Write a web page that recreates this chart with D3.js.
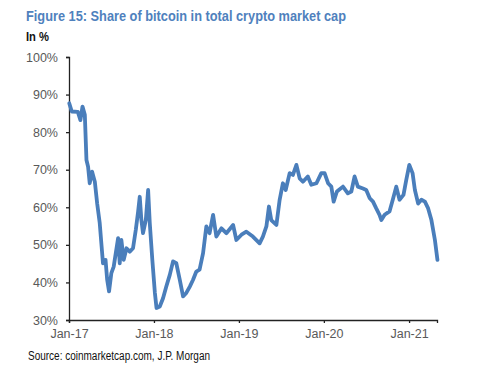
<!DOCTYPE html>
<html>
<head>
<meta charset="utf-8">
<script src="https://cdn.jsdelivr.net/npm/d3@7"></script>
<style>
  body { margin: 0; background: #fff; }
  svg { font-family: "Liberation Sans", Arial, sans-serif; }
</style>
</head>
<body>
<div id="chart"></div>
<script>
// dates and bitcoin share (%)
const dates = [
  "2017-01-02","2017-01-13","2017-02-08","2017-02-19","2017-02-28","2017-03-10","2017-03-17","2017-03-24",
  "2017-03-31","2017-04-10","2017-04-22","2017-05-02","2017-05-13","2017-05-20","2017-05-27","2017-06-07",
  "2017-06-14","2017-06-22","2017-07-02","2017-07-12","2017-07-21","2017-07-31","2017-08-07","2017-08-14",
  "2017-08-24","2017-09-05","2017-09-19","2017-10-03","2017-10-15","2017-10-25","2017-11-01","2017-11-08",
  "2017-11-15","2017-11-27","2017-12-07","2017-12-14","2017-12-25","2018-01-05","2018-01-12","2018-01-26",
  "2018-02-09","2018-02-23","2018-03-10","2018-03-24","2018-04-07","2018-04-22","2018-05-06","2018-05-20",
  "2018-06-04","2018-06-18","2018-07-02","2018-07-16","2018-07-31","2018-08-14","2018-08-28","2018-09-12",
  "2018-09-26","2018-10-18","2018-11-08","2018-12-07","2018-12-21","2019-01-12","2019-02-02","2019-03-02",
  "2019-03-31","2019-04-14","2019-04-29","2019-05-10","2019-05-20","2019-06-11","2019-06-25","2019-07-09",
  "2019-07-21","2019-08-07","2019-08-21","2019-09-05","2019-09-19","2019-10-03","2019-10-24","2019-11-08",
  "2019-11-30","2019-12-21","2020-01-04","2020-01-19","2020-02-02","2020-02-12","2020-02-26","2020-03-23",
  "2020-04-13","2020-04-28","2020-05-12","2020-05-26","2020-06-17","2020-07-01","2020-07-16","2020-07-30",
  "2020-08-13","2020-08-27","2020-09-04","2020-09-18","2020-10-09","2020-10-23","2020-11-07","2020-11-21",
  "2020-12-08","2020-12-20","2021-01-02","2021-01-16","2021-01-26","2021-02-09","2021-02-23","2021-03-10",
  "2021-03-24","2021-04-07","2021-04-22","2021-05-03"
];
const share = [
  87.7,85.5,85.4,83.2,86.8,84.6,72.6,70.8,
  66.4,69.5,66.8,61.0,55.8,50.4,45.1,46.0,
  40.7,37.6,42.5,44.2,47.8,51.8,45.1,51.3,
  46.0,49.1,48.2,49.1,54.0,58.9,62.8,56.6,
  53.1,56.6,64.6,55.8,46.0,37.2,33.2,33.6,
  35.8,38.9,42.0,45.6,45.1,40.7,36.3,37.2,
  38.9,40.7,42.9,43.4,47.8,54.9,53.1,58.0,
  52.2,54.4,53.1,55.3,51.3,52.7,53.5,52.2,
  50.4,52.2,54.9,60.2,56.6,55.3,62.0,66.4,
  64.6,69.1,68.6,71.3,67.7,66.8,68.2,66.0,
  66.4,69.1,69.1,66.4,65.5,61.5,64.2,65.5,
  63.7,64.2,68.2,65.5,65.0,64.6,62.4,61.5,
  59.7,58.0,56.6,58.0,58.9,62.0,65.5,62.0,
  63.3,67.3,71.3,69.1,64.6,61.0,62.0,61.5,
  59.7,56.6,51.3,46.0
];
const yTicks = [30, 40, 50, 60, 70, 80, 90, 100];
const xTickDates = ["2017-01-01","2018-01-01","2019-01-01","2020-01-01","2021-01-01"];

const parse = d3.timeParse("%Y-%m-%d");
const points = dates.map((d, i) => ({ date: parse(d), value: share[i] }));

const width = 500, height = 372;
const svg = d3.select("#chart").append("svg")
  .attr("width", width)
  .attr("height", height);

const x = d3.scaleTime()
  .domain([parse("2017-01-01"), parse("2021-05-01")])
  .range([69, 437]);
const y = d3.scaleLinear()
  .domain([30, 100])
  .range([320, 57]);

// titles (the original uses a narrow font, so squeeze to its width)
svg.append("text")
  .attr("x", 26).attr("y", 21)
  .attr("font-size", 15.5).attr("font-weight", "bold")
  .attr("fill", "#4f81bd")
  .attr("textLength", 320).attr("lengthAdjust", "spacingAndGlyphs")
  .text("Figure 15: Share of bitcoin in total crypto market cap");
svg.append("text")
  .attr("x", 26).attr("y", 41)
  .attr("font-size", 13).attr("font-weight", "bold")
  .attr("fill", "#111")
  .attr("textLength", 23).attr("lengthAdjust", "spacingAndGlyphs")
  .text("In %");

// y axis
const yAxis = svg.append("g")
  .attr("transform", "translate(69,0)")
  .call(d3.axisLeft(y).tickValues(yTicks).tickSize(3).tickPadding(8).tickFormat(d => d + "%"));
yAxis.select(".domain").attr("stroke", "#222").attr("stroke-width", 1.3);
yAxis.selectAll(".tick line").attr("stroke", "#222").attr("stroke-width", 1.3);
yAxis.selectAll(".tick text").attr("font-size", 12.5).attr("fill", "#595959")
  .attr("font-family", "'Liberation Sans', Arial, sans-serif");

// x axis
const xAxis = svg.append("g")
  .attr("transform", "translate(0,320)")
  .call(d3.axisBottom(x).tickValues(xTickDates.map(parse)).tickSize(3).tickPadding(6)
    .tickFormat(d3.timeFormat("%b-%y")));
xAxis.select(".domain").attr("stroke", "#222").attr("stroke-width", 1.3);
xAxis.selectAll(".tick line").attr("stroke", "#222").attr("stroke-width", 1.3);
xAxis.selectAll(".tick text").attr("font-size", 12.5).attr("fill", "#595959")
  .attr("font-family", "'Liberation Sans', Arial, sans-serif");

// line
const line = d3.line()
  .x(d => x(d.date))
  .y(d => y(d.value));
svg.append("path")
  .datum(points)
  .attr("fill", "none")
  .attr("stroke", "#4a7ebb")
  .attr("stroke-width", 3.8)
  .attr("stroke-linejoin", "round")
  .attr("stroke-linecap", "round")
  .attr("d", line);

// source
svg.append("text")
  .attr("x", 28).attr("y", 360)
  .attr("font-size", 12)
  .attr("fill", "#111")
  .attr("textLength", 182).attr("lengthAdjust", "spacingAndGlyphs")
  .text("Source: coinmarketcap.com, J.P. Morgan");
</script>
</body>
</html>
